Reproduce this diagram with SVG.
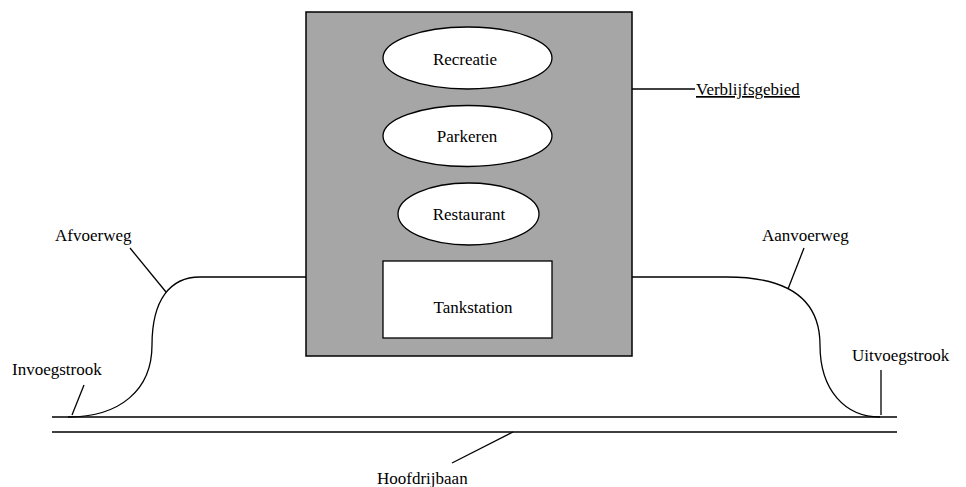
<svg xmlns="http://www.w3.org/2000/svg" width="966" height="487" viewBox="0 0 966 487">
<style>
text{font-family:"Liberation Serif","Times New Roman",serif;font-size:17px;fill:#000}
.ln{fill:none;stroke:#000;stroke-width:1.3}
.sh{fill:#fff;stroke:#000;stroke-width:1.3}
.mid{text-anchor:middle}
</style>
<rect width="966" height="487" fill="#fff"/>
<g id="verblijfsgebied">
<rect x="306" y="12" width="326" height="344" fill="#a6a6a6" stroke="#000" stroke-width="1.5"/>
</g>
<g id="recreatie">
<ellipse class="sh" cx="467.5" cy="58" rx="84.5" ry="31"/>
<text class="mid" x="465" y="65">Recreatie</text>
</g>
<g id="parkeren">
<ellipse class="sh" cx="467.5" cy="136" rx="84.5" ry="30.5"/>
<text class="mid" x="467" y="142">Parkeren</text>
</g>
<g id="restaurant">
<ellipse class="sh" cx="468.5" cy="214" rx="70.5" ry="31"/>
<text class="mid" x="469" y="220">Restaurant</text>
</g>
<g id="tankstation">
<rect class="sh" x="383" y="261" width="169" height="77"/>
<text class="mid" x="473" y="313">Tankstation</text>
</g>
<g id="connectors">
<path class="ln" d="M632,89 H695"/>
<path class="ln" d="M306,277 H200 C170,277 152,300 152,345 C152,390 120,417 68,417"/>
<path class="ln" d="M632,277 H727 C790,277 820,300 820,345 C820,390 845,417 880,417"/>
<path class="ln" d="M52,417 H897 M52,432 H897"/>
<path class="ln" d="M130,248 L166,292"/>
<path class="ln" d="M84,385 L72,415"/>
<path class="ln" d="M804,248 L788,289"/>
<path class="ln" d="M881,370 V415"/>
<path class="ln" d="M513,432 L452,463"/>
</g>
<g id="labels">
<text x="696" y="95" text-decoration="underline">Verblijfsgebied</text>
<text x="55" y="241">Afvoerweg</text>
<text x="12" y="375">Invoegstrook</text>
<text x="762" y="241">Aanvoerweg</text>
<text x="852" y="361">Uitvoegstrook</text>
<text x="377" y="484">Hoofdrijbaan</text>
</g>
</svg>
